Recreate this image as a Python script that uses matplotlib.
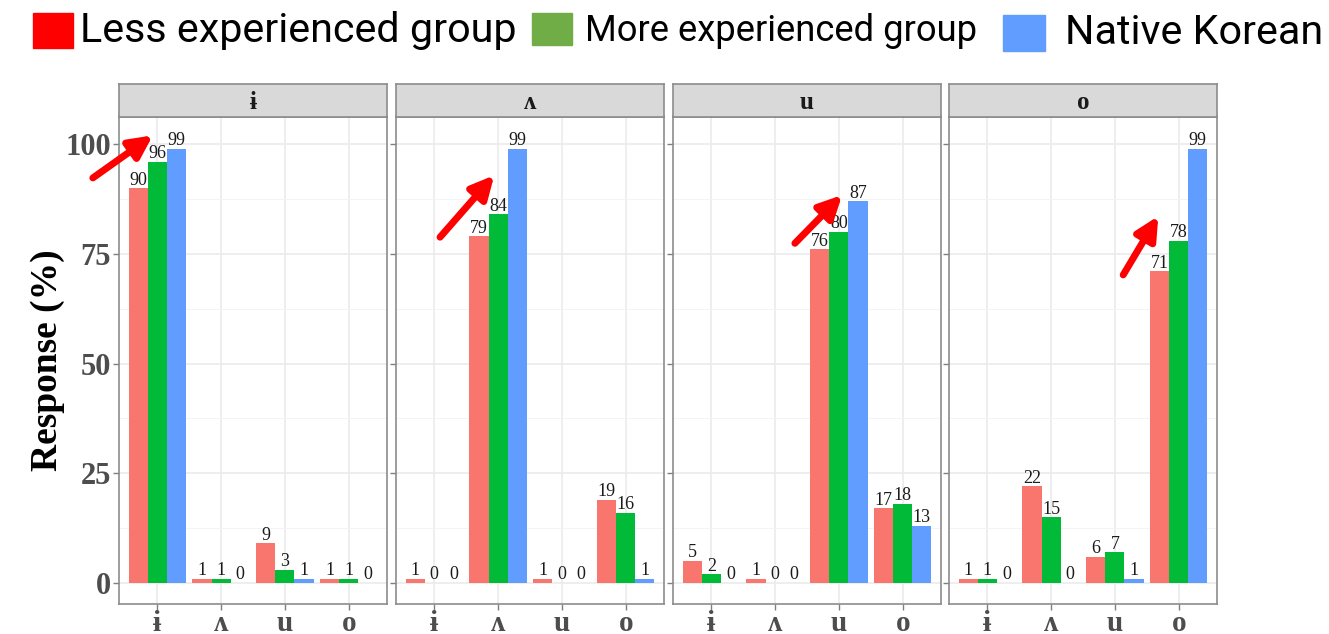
"""Response (%) per vowel, three listener groups, ggplot-like facets"""
import matplotlib
matplotlib.use("Agg")
import matplotlib.pyplot as plt
from matplotlib.patches import Rectangle
from matplotlib.ticker import MultipleLocator

# data
panels = ["ɨ", "ʌ", "u", "o"]
categories = ["ɨ", "ʌ", "u", "o"]
groups = ["Less experienced group", "More experienced group", "Native Korean"]
less_exp = [[90, 1, 9, 1], [1, 79, 1, 19], [5, 1, 76, 17], [1, 22, 6, 71]]
more_exp = [[96, 1, 3, 1], [0, 84, 0, 16], [2, 0, 80, 18], [1, 15, 7, 78]]
native = [[99, 0, 1, 0], [0, 99, 0, 1], [0, 0, 87, 13], [0, 0, 1, 99]]
yticks = [0, 25, 50, 75, 100]

bar_colors = ["#F8766D", "#00BA38", "#619CFF"]
legend_colors = ["#FF0000", "#70AD47", "#619CFF"]
# red arrows (tail, head) in data units of each panel
arrows = [((-0.01, 92.3), (0.93, 102.0)),
          ((1.09, 78.8), (1.94, 92.9)),
          ((2.31, 77.4), (3.05, 88.4)),
          ((3.13, 70.2), (3.68, 83.6))]

W, H = 1329, 634
SERIF = ["Liberation Serif", "DejaVu Serif"]


def fx(px):
    return px / W


def fy(py):
    return 1 - py / H


def main():
    fig = plt.figure(figsize=(W / 100, H / 100), dpi=100)
    lefts = [119, 396, 673, 949]
    pw = 268
    ptop, pbot, stop = 116.5, 604, 84.3
    series = [less_exp, more_exp, native]
    bw = 0.3
    for p, left in enumerate(lefts):
        ax = fig.add_axes([fx(left), fy(pbot), fx(pw), (pbot - ptop) / H])
        x = range(1, len(categories) + 1)
        for g, vals in enumerate(series):
            xs = [xi + (g - 1) * bw for xi in x]
            ax.bar(xs, vals[p], width=bw, color=bar_colors[g], zorder=2)
            for xi, v in zip(xs, vals[p]):
                ax.text(xi, v + 0.8, str(v), ha="center", va="baseline",
                        fontsize=13, family=SERIF, color="#1a1a1a", zorder=3)
        ax.set_xlim(0.4, 4.6)
        ax.set_ylim(-4.8, 106.3)
        ax.set_xticks(list(x))
        ax.set_xticklabels(categories, family=SERIF, fontweight="bold",
                           fontsize=21, color="#4d4d4d")
        ax.set_yticks(yticks)
        ax.yaxis.set_minor_locator(MultipleLocator(12.5))
        if p == 0:
            ax.set_yticklabels([str(t) for t in yticks], family=SERIF,
                               fontweight="bold", fontsize=22, color="#4d4d4d")
            ax.set_ylabel("Response (%)", family=SERIF, fontweight="bold",
                          fontsize=27, labelpad=0)
        else:
            ax.set_yticklabels([])
            ax.tick_params(axis="y", length=0)
        ax.tick_params(axis="both", which="major", length=4, width=1,
                       color="#7f7f7f", pad=2)
        ax.tick_params(axis="x", pad=0)
        ax.tick_params(axis="y", which="minor", length=0)
        ax.grid(True, which="major", color="#ebebeb", lw=1.2, zorder=0)
        ax.grid(True, which="minor", axis="y", color="#f2f2f2", lw=0.6, zorder=0)
        for s in ax.spines.values():
            s.set_color("#8c8c8c")
            s.set_linewidth(1.2)
        tail, head = arrows[p]
        ax.annotate("", xy=head, xytext=tail, annotation_clip=False,
                    arrowprops=dict(arrowstyle="-|>", color="#FF0000", lw=5,
                                    mutation_scale=34, shrinkA=0, shrinkB=0),
                    zorder=5)

        sx = fig.add_axes([fx(left), fy(ptop), fx(pw), (ptop - stop) / H])
        sx.set_facecolor("#d9d9d9")
        sx.set_xticks([])
        sx.set_yticks([])
        for s in sx.spines.values():
            s.set_color("#8c8c8c")
            s.set_linewidth(1.2)
        sx.text(0.5, 0.45, panels[p], ha="center", va="center", family=SERIF,
                fontweight="bold", fontsize=18, color="#1a1a1a",
                transform=sx.transAxes)

    # legend along the top; font size fitted to the width in the reference
    boxes = [(33, 13, 40, 35), (532, 13, 40, 32), (1003, 15, 42, 36)]
    text_x = [80, 585, 1065]
    text_w = [435, 392, 257]
    text_y = [30, 31, 33]
    renderer = fig.canvas.get_renderer()
    for i, name in enumerate(groups):
        bx, by, bwid, bh = boxes[i]
        fig.patches.append(Rectangle((fx(bx), fy(by + bh)), fx(bwid), bh / H,
                                     transform=fig.transFigure,
                                     color=legend_colors[i]))
        t = fig.text(fx(text_x[i]), fy(text_y[i]), name, ha="left",
                     va="center", fontsize=30, family="Roboto")
        w = t.get_window_extent(renderer).width
        t.set_fontsize(30 * text_w[i] / w)

    fig.savefig("out.png", dpi=100)


if __name__ == "__main__":
    main()
